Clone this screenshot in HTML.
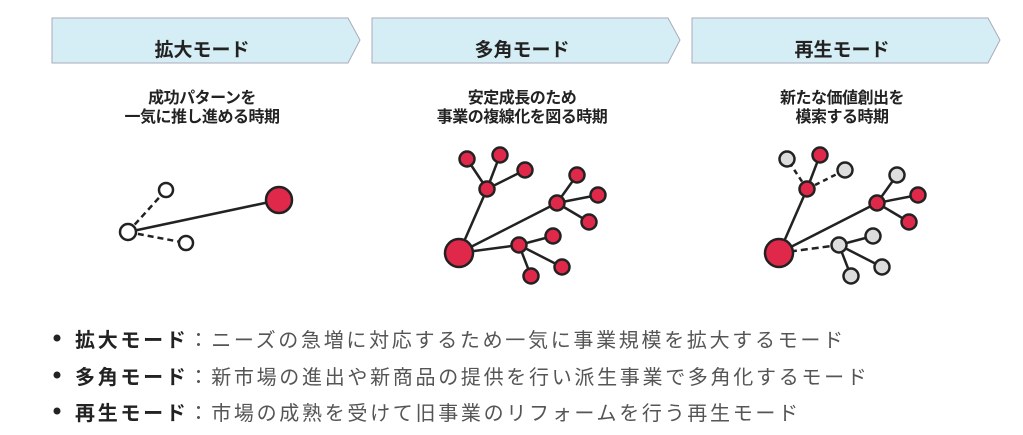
<!DOCTYPE html>
<html><head><meta charset="utf-8"><style>
body{margin:0;width:1023px;height:435px;background:#fff;position:relative;overflow:hidden;font-family:"Liberation Sans","Noto Sans CJK JP",sans-serif;}
.t{position:absolute;text-align:center;font-weight:bold;color:#222;}
.b{position:absolute;left:48px;font-size:20px;letter-spacing:2.7px;color:#555;white-space:nowrap;}
.b b{color:#222;}
</style></head><body>
<svg width="1023" height="435" style="position:absolute;left:0;top:0">
<g fill="#d5edf4" stroke="#aab" stroke-width="1">
<polygon points="52,18 348,18 360,40 348,63 52,63"/>
<polygon points="372,18 668,18 680,40 668,63 372,63"/>
<polygon points="692,18 988,18 1000,40 988,63 692,63"/>
</g>
<g stroke="#222" stroke-width="2.5">
<line x1="128" y1="232" x2="279" y2="200"/>
<line x1="128" y1="232" x2="166" y2="190" stroke-dasharray="6,4"/>
<line x1="128" y1="232" x2="186" y2="243" stroke-dasharray="6,4"/>
</g>
<g stroke="#222" stroke-width="2.5">
<circle cx="279" cy="200" r="13" fill="#e0284a"/>
<circle cx="166" cy="190" r="7" fill="#fff"/>
<circle cx="128" cy="232" r="8" fill="#fff"/>
<circle cx="186" cy="243" r="7" fill="#fff"/>
</g>
<g stroke="#222" stroke-width="2.5">
<line x1="459" y1="253" x2="487" y2="189"/><line x1="459" y1="253" x2="557" y2="203"/><line x1="459" y1="253" x2="519" y2="245"/>
<line x1="487" y1="189" x2="467" y2="159"/><line x1="487" y1="189" x2="500" y2="155"/><line x1="487" y1="189" x2="525" y2="170"/>
<line x1="557" y1="203" x2="577" y2="175"/><line x1="557" y1="203" x2="598" y2="195"/><line x1="557" y1="203" x2="589" y2="222"/>
<line x1="519" y1="245" x2="553" y2="236"/><line x1="519" y1="245" x2="562" y2="267"/><line x1="519" y1="245" x2="531" y2="276"/>
</g>
<g stroke="#222" stroke-width="2.5" fill="#e0284a">
<circle cx="459" cy="253" r="14"/>
<circle cx="487" cy="189" r="7.5"/><circle cx="467" cy="159" r="7.5"/><circle cx="500" cy="155" r="7.5"/><circle cx="525" cy="170" r="7.5"/>
<circle cx="557" cy="203" r="7.5"/><circle cx="577" cy="175" r="7.5"/><circle cx="598" cy="195" r="7.5"/><circle cx="589" cy="222" r="7.5"/>
<circle cx="519" cy="245" r="7.5"/><circle cx="553" cy="236" r="7.5"/><circle cx="562" cy="267" r="7.5"/><circle cx="531" cy="276" r="7.5"/>
</g>
<g stroke="#222" stroke-width="2.5">
<line x1="779" y1="253" x2="807" y2="189"/><line x1="779" y1="253" x2="877" y2="203"/><line x1="779" y1="253" x2="839" y2="245" stroke-dasharray="7,4"/>
<line x1="807" y1="189" x2="787" y2="159" stroke-dasharray="5,4"/><line x1="807" y1="189" x2="820" y2="155"/><line x1="807" y1="189" x2="845" y2="170" stroke-dasharray="5,4"/>
<line x1="877" y1="203" x2="897" y2="175"/><line x1="877" y1="203" x2="918" y2="195"/><line x1="877" y1="203" x2="909" y2="222"/>
<line x1="839" y1="245" x2="873" y2="236"/><line x1="839" y1="245" x2="882" y2="267"/><line x1="839" y1="245" x2="851" y2="276"/>
</g>
<g stroke="#222" stroke-width="2.5">
<circle cx="779" cy="253" r="14" fill="#e0284a"/>
<circle cx="807" cy="189" r="7.5" fill="#e0284a"/><circle cx="787" cy="159" r="7.5" fill="#ddd"/><circle cx="820" cy="155" r="7.5" fill="#e0284a"/><circle cx="845" cy="170" r="7.5" fill="#ddd"/>
<circle cx="877" cy="203" r="7.5" fill="#e0284a"/><circle cx="897" cy="175" r="7.5" fill="#ddd"/><circle cx="918" cy="195" r="7.5" fill="#e0284a"/><circle cx="909" cy="222" r="7.5" fill="#e0284a"/>
<circle cx="839" cy="245" r="7.5" fill="#ddd"/><circle cx="873" cy="236" r="7.5" fill="#ddd"/><circle cx="882" cy="267" r="7.5" fill="#ddd"/><circle cx="851" cy="276" r="7.5" fill="#ddd"/>
</g>
<g fill="#222"><circle cx="57" cy="338" r="3.5"/><circle cx="57" cy="375" r="3.5"/><circle cx="57" cy="411" r="3.5"/></g>
</svg>
<div class="t" style="left:52px;width:300px;top:35px;font-size:19px">拡大モード</div>
<div class="t" style="left:372px;width:300px;top:35px;font-size:19px">多角モード</div>
<div class="t" style="left:692px;width:300px;top:35px;font-size:19px">再生モード</div>
<div class="t" style="left:52px;width:300px;top:89px;font-size:16px;line-height:19px;letter-spacing:-0.5px">成功パターンを<br>一気に推し進める時期</div>
<div class="t" style="left:372px;width:300px;top:89px;font-size:16px;line-height:19px;letter-spacing:-0.5px">安定成長のため<br>事業の複線化を図る時期</div>
<div class="t" style="left:692px;width:300px;top:89px;font-size:16px;line-height:19px;letter-spacing:-0.5px">新たな価値創出を<br>模索する時期</div>
<div class="b" style="left:75px;top:324px"><b>拡大モード</b>：ニーズの急増に対応するため一気に事業規模を拡大するモード</div>
<div class="b" style="left:75px;top:361px"><b>多角モード</b>：新市場の進出や新商品の提供を行い派生事業で多角化するモード</div>
<div class="b" style="left:75px;top:397px"><b>再生モード</b>：市場の成熟を受けて旧事業のリフォームを行う再生モード</div>
</body></html>
